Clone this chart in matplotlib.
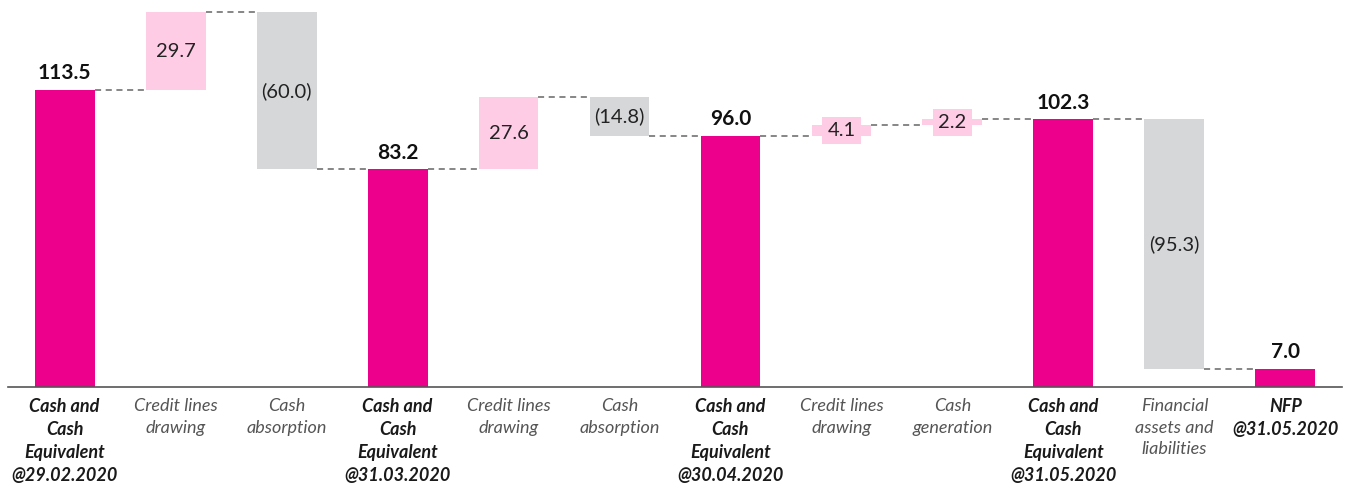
import numpy as np
import matplotlib
matplotlib.use("Agg")
import matplotlib.pyplot as plt

plt.rcParams['font.family'] = ['Lato', 'DejaVu Sans']

labels = ["Cash and\nCash\nEquivalent\n@29.02.2020", "Credit lines\ndrawing", "Cash\nabsorption",
          "Cash and\nCash\nEquivalent\n@31.03.2020", "Credit lines\ndrawing", "Cash\nabsorption",
          "Cash and\nCash\nEquivalent\n@30.04.2020", "Credit lines\ndrawing", "Cash\ngeneration",
          "Cash and\nCash\nEquivalent\n@31.05.2020", "Financial\nassets and\nliabilities",
          "NFP\n@31.05.2020"]
values = [113.5, 29.7, -60.0, 83.2, 27.6, -14.8, 96.0, 4.1, 2.2, 102.3, -95.3, 7.0]
is_total = [True, False, False, True, False, False, True, False, False, True, False, True]

MAGENTA = "#EC008C"
PINK = "#FFCCE6"
GREY = "#D6D7D9"

fig = plt.figure(figsize=(13.59, 4.84), dpi=100)
ax = fig.add_axes([8 / 1359, 97 / 484, 1334 / 1359, 387 / 484])

x = np.arange(len(values))
w = 0.54
level = 0
ends = []
for i, v in enumerate(values):
    if is_total[i]:
        b, t = 0, v
        level = v
    else:
        b, t = min(level, level + v), max(level, level + v)
        level = level + v
    ends.append(level)
    if is_total[i]:
        c = MAGENTA
    elif v > 0:
        c = PINK
    else:
        c = GREY
    ax.bar(x[i], t - b, bottom=b, width=w, color=c, zorder=2)

    if is_total[i]:
        ax.text(x[i], t + 2.5, f"{v:.1f}", ha="center", va="bottom",
                fontsize=15, fontweight="bold", color="#111111")
    else:
        txt = f"{v:.1f}" if v > 0 else f"({-v:.1f})"
        if t - b < 8:
            ax.text(x[i], (t + b) / 2, txt, ha="center", va="center", fontsize=14.5,
                    color="#222222", zorder=3,
                    bbox=dict(boxstyle="square,pad=0.25", fc=PINK, ec="none"))
        else:
            ax.text(x[i], (t + b) / 2, txt, ha="center", va="center", fontsize=14.5,
                    color="#222222", zorder=3)

# connectors
for i in range(len(values) - 1):
    ax.plot([x[i] + w / 2, x[i + 1] - w / 2], [ends[i], ends[i]],
            color="#666666", lw=1.1, ls=(0, (4, 3)), zorder=1)

ax.set_xlim(-0.51, 11.51)
ax.set_ylim(0, 147.9)
for s in ["top", "right", "left"]:
    ax.spines[s].set_visible(False)
ax.spines["bottom"].set_color("#555555")
ax.spines["bottom"].set_linewidth(1.2)
ax.set_yticks([])
ax.set_xticks(x)
ax.set_xticklabels(labels)
ax.tick_params(axis="x", length=0, pad=8)
for lbl, tot in zip(ax.get_xticklabels(), is_total):
    lbl.set_fontsize(13)
    lbl.set_style("italic")
    lbl.set_linespacing(1.42)
    lbl.set_verticalalignment("top")
    if tot:
        lbl.set_fontweight("bold")
        lbl.set_color("#1a1a1a")
    else:
        lbl.set_color("#555555")

fig.savefig("out.png", dpi=100)
